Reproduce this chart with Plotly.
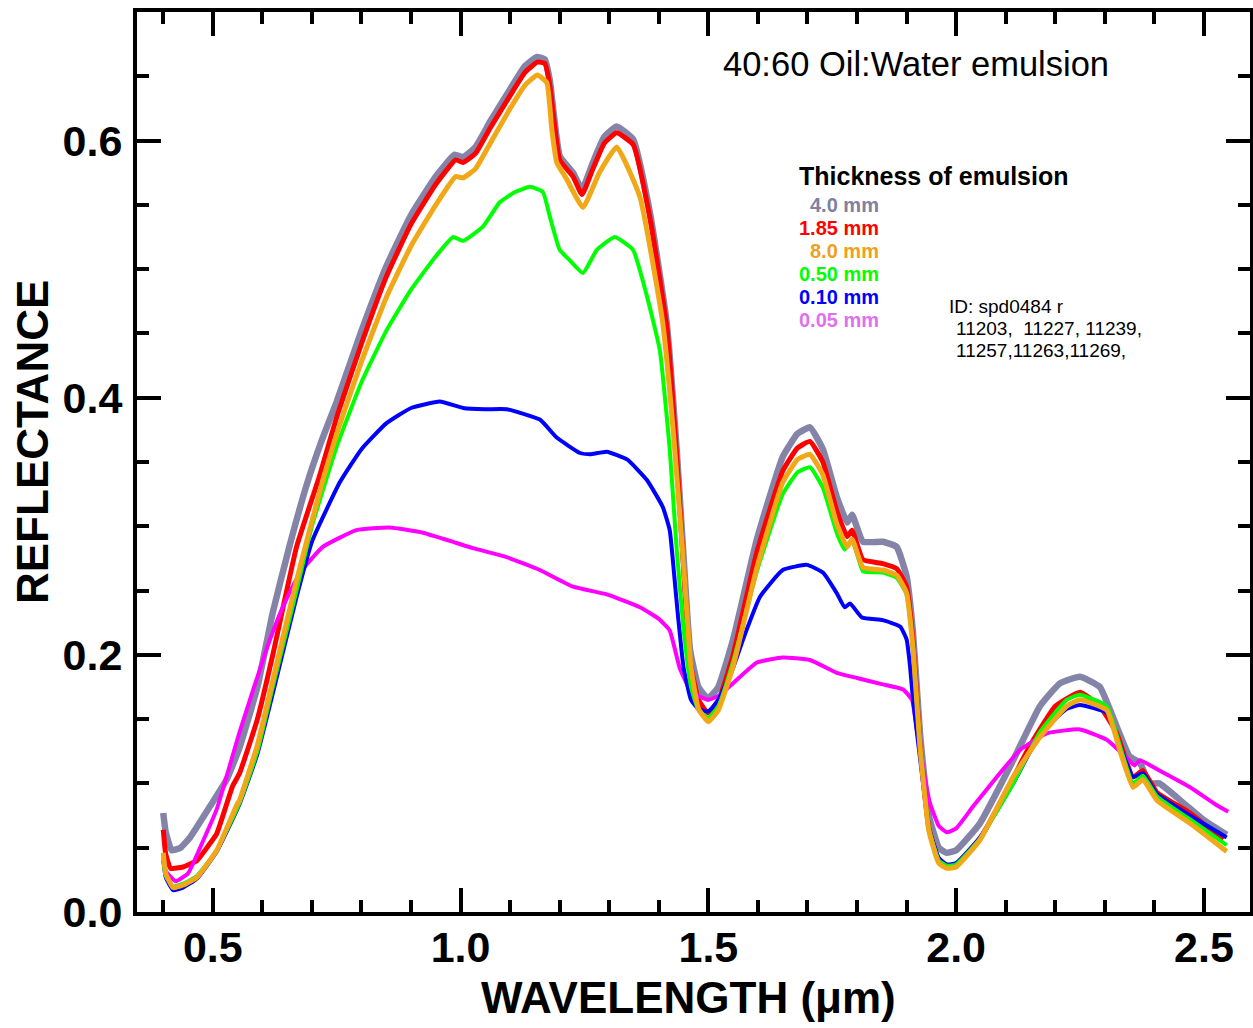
import plotly.graph_objects as go

# ---- data (wavelength in micrometres, reflectance) ----
wl_40 = [0.40, 0.405, 0.417, 0.435, 0.454, 0.494, 0.528, 0.554, 0.59, 0.621, 0.655, 0.69, 0.72, 0.75, 0.80, 0.85,
         0.90, 0.95, 0.988, 1.005, 1.03, 1.06, 1.10, 1.13, 1.154, 1.17, 1.18, 1.20, 1.227, 1.245, 1.267, 1.29,
         1.315, 1.348, 1.382, 1.416, 1.436, 1.449, 1.463, 1.48, 1.499, 1.52, 1.55, 1.598, 1.65, 1.68, 1.705,
         1.731, 1.759, 1.78, 1.79, 1.812, 1.852, 1.88, 1.90, 1.913, 1.927, 1.945, 1.965, 1.981, 2.0, 2.048,
         2.115, 2.169, 2.21, 2.25, 2.29, 2.316, 2.35, 2.371, 2.39, 2.41, 2.458, 2.498, 2.546]
r_40 = [0.077, 0.062, 0.048, 0.050, 0.058, 0.082, 0.103, 0.128, 0.175, 0.233, 0.285, 0.333, 0.367, 0.397, 0.452, 0.502,
        0.542, 0.572, 0.589, 0.587, 0.595, 0.615, 0.640, 0.658, 0.665, 0.663, 0.647, 0.588, 0.575, 0.562, 0.583,
        0.603, 0.611, 0.601, 0.544, 0.458, 0.36, 0.282, 0.204, 0.175, 0.166, 0.175, 0.212, 0.29, 0.354, 0.372,
        0.377, 0.36, 0.323, 0.303, 0.309, 0.288, 0.288, 0.284, 0.261, 0.217, 0.139, 0.075, 0.05, 0.046, 0.048,
        0.069, 0.118, 0.16, 0.178, 0.183, 0.175, 0.152, 0.121, 0.116, 0.10, 0.10, 0.085, 0.072, 0.06]

wl_185 = [0.40, 0.405, 0.415, 0.44, 0.468, 0.49, 0.508, 0.54, 0.554, 0.59, 0.621, 0.669, 0.716, 0.75, 0.80,
          0.85, 0.90, 0.95, 0.99, 1.005, 1.03, 1.06, 1.10, 1.13, 1.155, 1.17, 1.18, 1.20, 1.227, 1.245, 1.267,
          1.29, 1.315, 1.348, 1.382, 1.416, 1.436, 1.449, 1.463, 1.48, 1.499, 1.52, 1.55, 1.598, 1.65, 1.68,
          1.705, 1.731, 1.759, 1.78, 1.79, 1.812, 1.852, 1.88, 1.90, 1.913, 1.927, 1.945, 1.965, 1.981, 2.0,
          2.05, 2.1, 2.15, 2.2, 2.25, 2.29, 2.324, 2.357, 2.377, 2.405, 2.472, 2.538]
r_185 = [0.064, 0.045, 0.034, 0.035, 0.040, 0.051, 0.061, 0.098, 0.108, 0.15, 0.20, 0.284, 0.34, 0.385, 0.442,
         0.494, 0.535, 0.566, 0.585, 0.583, 0.59, 0.61, 0.635, 0.653, 0.661, 0.66, 0.643, 0.585, 0.572, 0.558,
         0.578, 0.598, 0.606, 0.597, 0.54, 0.455, 0.355, 0.275, 0.195, 0.165, 0.155, 0.164, 0.20, 0.28, 0.343,
         0.361, 0.366, 0.35, 0.312, 0.292, 0.297, 0.274, 0.271, 0.267, 0.253, 0.21, 0.13, 0.065, 0.04, 0.035,
         0.037, 0.058, 0.093, 0.13, 0.16, 0.171, 0.16, 0.139, 0.105, 0.11, 0.093, 0.077, 0.056]

wl_80 = [0.40, 0.405, 0.42, 0.44, 0.468, 0.508, 0.548, 0.554, 0.59, 0.621, 0.669, 0.722, 0.75, 0.80, 0.85,
         0.90, 0.95, 0.99, 1.005, 1.03, 1.06, 1.10, 1.13, 1.155, 1.174, 1.184, 1.194, 1.214, 1.247, 1.28, 1.315,
         1.362, 1.408, 1.43, 1.45, 1.465, 1.48, 1.50, 1.52, 1.55, 1.598, 1.65, 1.68, 1.705, 1.731, 1.759, 1.78,
         1.79, 1.812, 1.852, 1.88, 1.90, 1.913, 1.927, 1.945, 1.965, 1.981, 2.0, 2.048, 2.115, 2.169, 2.223,
         2.25, 2.304, 2.33, 2.357, 2.377, 2.405, 2.472, 2.546]
r_80 = [0.046, 0.03, 0.019, 0.021, 0.027, 0.048, 0.083, 0.087, 0.13, 0.18, 0.258, 0.336, 0.372, 0.428, 0.478,
        0.518, 0.550, 0.572, 0.571, 0.578, 0.598, 0.625, 0.643, 0.651, 0.645, 0.609, 0.583, 0.570, 0.548, 0.575,
        0.595, 0.556, 0.458, 0.37, 0.27, 0.19, 0.158, 0.148, 0.157, 0.191, 0.268, 0.334, 0.352, 0.356, 0.34,
        0.302, 0.284, 0.29, 0.268, 0.266, 0.262, 0.248, 0.205, 0.128, 0.063, 0.038, 0.034, 0.035, 0.056, 0.105,
        0.136, 0.16, 0.165, 0.157, 0.126, 0.097, 0.103, 0.087, 0.069, 0.047]

wl_050 = [0.40, 0.405, 0.42, 0.44, 0.468, 0.508, 0.554, 0.59, 0.621, 0.669, 0.70, 0.75, 0.80, 0.85, 0.90,
          0.95, 0.985, 1.005, 1.045, 1.079, 1.11, 1.14, 1.166, 1.18, 1.20, 1.22, 1.247, 1.275, 1.311, 1.348,
          1.376, 1.402, 1.422, 1.436, 1.45, 1.465, 1.48, 1.50, 1.52, 1.55, 1.598, 1.65, 1.68, 1.705, 1.731,
          1.759, 1.775, 1.79, 1.812, 1.852, 1.88, 1.90, 1.913, 1.927, 1.945, 1.965, 1.981, 2.0, 2.048, 2.115,
          2.169, 2.223, 2.25, 2.304, 2.33, 2.357, 2.377, 2.405, 2.472, 2.546]
r_050 = [0.042, 0.028, 0.02, 0.022, 0.028, 0.048, 0.085, 0.125, 0.175, 0.25, 0.30, 0.362, 0.412, 0.452, 0.484,
         0.510, 0.525, 0.522, 0.533, 0.552, 0.56, 0.564, 0.56, 0.541, 0.515, 0.507, 0.497, 0.515, 0.525, 0.515,
         0.479, 0.437, 0.36, 0.282, 0.22, 0.175, 0.157, 0.151, 0.16, 0.195, 0.265, 0.325, 0.342, 0.346, 0.33,
         0.295, 0.282, 0.29, 0.265, 0.264, 0.26, 0.247, 0.205, 0.13, 0.065, 0.04, 0.036, 0.037, 0.057, 0.1,
         0.14, 0.165, 0.169, 0.16, 0.13, 0.1, 0.106, 0.09, 0.072, 0.052]

wl_010 = [0.40, 0.405, 0.42, 0.44, 0.468, 0.508, 0.554, 0.59, 0.621, 0.669, 0.70, 0.756, 0.80, 0.85, 0.90,
          0.958, 1.005, 1.05, 1.093, 1.16, 1.194, 1.241, 1.261, 1.295, 1.336, 1.376, 1.408, 1.422, 1.432, 1.438,
          1.45, 1.465, 1.48, 1.50, 1.52, 1.55, 1.57, 1.604, 1.65, 1.699, 1.731, 1.759, 1.775, 1.786, 1.81, 1.852,
          1.887, 1.90, 1.907, 1.913, 1.927, 1.945, 1.965, 1.981, 2.0, 2.048, 2.115, 2.169, 2.223, 2.25, 2.304,
          2.33, 2.357, 2.377, 2.405, 2.472, 2.546]
r_010 = [0.04, 0.027, 0.017, 0.019, 0.026, 0.047, 0.084, 0.123, 0.17, 0.245, 0.288, 0.334, 0.360, 0.380, 0.392,
         0.397, 0.392, 0.391, 0.391, 0.383, 0.369, 0.357, 0.356, 0.358, 0.352, 0.336, 0.315, 0.297, 0.258, 0.233,
         0.19, 0.165, 0.158, 0.156, 0.165, 0.19, 0.212, 0.245, 0.266, 0.27, 0.264, 0.248, 0.237, 0.24, 0.229,
         0.227, 0.222, 0.212, 0.191, 0.165, 0.12, 0.065, 0.042, 0.037, 0.038, 0.058, 0.1, 0.138, 0.158, 0.161,
         0.155, 0.13, 0.105, 0.108, 0.092, 0.075, 0.058]

wl_005 = [0.40, 0.405, 0.425, 0.45, 0.48, 0.508, 0.554, 0.609, 0.641, 0.676, 0.722, 0.79, 0.857, 0.924, 0.992,
          1.025, 1.093, 1.16, 1.227, 1.295, 1.362, 1.40, 1.422, 1.442, 1.46, 1.48, 1.499, 1.52, 1.55, 1.598,
          1.65, 1.705, 1.759, 1.80, 1.852, 1.893, 1.911, 1.92, 1.927, 1.947, 1.965, 1.981, 2.0, 2.034, 2.082,
          2.129, 2.183, 2.25, 2.304, 2.344, 2.36, 2.371, 2.41, 2.472, 2.526, 2.549]
r_005 = [0.045, 0.032, 0.024, 0.03, 0.055, 0.08, 0.14, 0.205, 0.237, 0.264, 0.284, 0.297, 0.299, 0.295, 0.287,
         0.283, 0.276, 0.266, 0.253, 0.247, 0.237, 0.228, 0.219, 0.19, 0.175, 0.168, 0.165, 0.168, 0.178, 0.194,
         0.198, 0.196, 0.186, 0.182, 0.177, 0.173, 0.165, 0.144, 0.126, 0.085, 0.067, 0.062, 0.065, 0.082, 0.105,
         0.126, 0.139, 0.142, 0.134, 0.12, 0.114, 0.118, 0.11, 0.097, 0.083, 0.078]

legend_labels = ["4.0 mm", "1.85 mm", "8.0 mm", "0.50 mm", "0.10 mm", "0.05 mm"]
x_ticks = [0.5, 1.0, 1.5, 2.0, 2.5]
y_ticks = [0.0, 0.2, 0.4, 0.6]

GRAY, RED, ORANGE, GREEN, BLUE, MAGENTA = "#8484A8", "#FF0000", "#F0A818", "#00FF00", "#0000FF", "#FF00FF"

fig = go.Figure()
series = [
    (wl_40, r_40, GRAY, 6.5),
    (wl_185, r_185, RED, 5),
    (wl_005, r_005, MAGENTA, 4),
    (wl_010, r_010, BLUE, 4),
    (wl_050, r_050, GREEN, 4),
    (wl_80, r_80, ORANGE, 5),
]
for x, y, c, w in series:
    fig.add_trace(go.Scatter(x=x, y=y, mode="lines", line=dict(color=c, width=w, shape="spline", smoothing=0.4),
                             showlegend=False, hoverinfo="skip"))

L, R, T, B = 137, 3, 12, 116
W, H = 1253, 1028
PW, PH = W - L - R, H - T - B


def px(xp):
    return (xp - L) / PW


def py(yp):
    return (H - B - yp) / PH


FONT = "Liberation Sans, Arial, sans-serif"
axis_common = dict(showline=True, linecolor="black", linewidth=4, mirror="ticks", ticks="inside",
                   tickcolor="black", tickwidth=4, showgrid=False, zeroline=False,
                   tickfont=dict(family=FONT, size=43, color="black", weight="bold"))

fig.update_xaxes(range=[0.347, 2.593], tickvals=x_ticks, ticktext=[f"{v:.1f}" for v in x_ticks], ticklen=24,
                 minor=dict(dtick=0.1, tick0=0.0, ticklen=12, tickwidth=4, tickcolor="black", ticks="inside"),
                 ticklabelstandoff=-6, **axis_common)
fig.update_yaxes(range=[0.0, 0.7], tickvals=y_ticks, ticktext=[f"{v:.1f}" for v in y_ticks], ticklen=24,
                 minor=dict(dtick=0.05, tick0=0.0, ticklen=12, tickwidth=4, tickcolor="black", ticks="inside"),
                 ticklabelstandoff=2, **axis_common)

annotations = [
    dict(text="REFLECTANCE", x=px(33), y=py(442), textangle=-90,
         font=dict(family=FONT, size=44, color="black", weight="bold")),
    dict(text="WAVELENGTH (μm)", x=px(688), y=py(997),
         font=dict(family=FONT, size=44, color="black", weight="bold")),
    dict(text="40:60 Oil:Water emulsion", x=px(721), y=py(64), xanchor="left",
         font=dict(family=FONT, size=34.5, color="black")),
    dict(text="Thickness of emulsion", x=px(797), y=py(176), xanchor="left",
         font=dict(family=FONT, size=25, color="black", weight="bold")),
]
leg_colors = ["#8080A0", RED, "#F0A020", GREEN, BLUE, "#E070F0"]
leg_x = [808, 797, 808, 797, 797, 797]
leg_y = [205, 228, 251, 274, 297, 320]
for t, c, xx, yy in zip(legend_labels, leg_colors, leg_x, leg_y):
    annotations.append(dict(text=t, x=px(xx), y=py(yy), xanchor="left",
                            font=dict(family=FONT, size=20, color=c, weight="bold")))
id_lines = ["ID: spd0484 r", "11203,  11227, 11239,", "11257,11263,11269,"]
id_x = [947, 954, 954]
id_y = [306, 328, 350]
for t, xx, yy in zip(id_lines, id_x, id_y):
    annotations.append(dict(text=t, x=px(xx), y=py(yy), xanchor="left",
                            font=dict(family=FONT, size=19, color="black")))
for a in annotations:
    a.update(xref="paper", yref="paper", showarrow=False, yanchor="middle")
    a.setdefault("xanchor", "center")

fig.update_layout(width=W, height=H, margin=dict(l=L, r=R, t=T, b=B, autoexpand=False),
                  plot_bgcolor="white", paper_bgcolor="white", annotations=annotations)
fig.write_html("out.html", config={"displayModeBar": False},
               post_script="document.body.style.margin='0';document.body.style.overflow='hidden';")
